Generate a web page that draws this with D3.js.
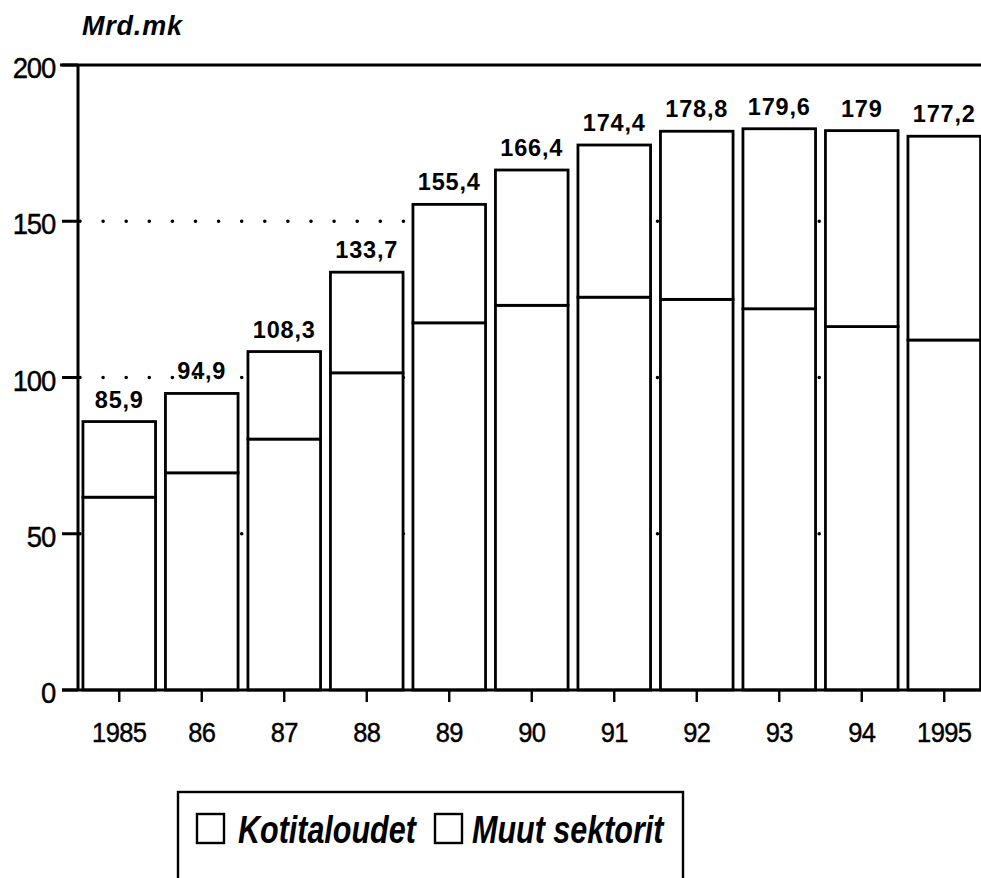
<!DOCTYPE html>
<html><head><meta charset="utf-8">
<script src="https://cdn.jsdelivr.net/npm/d3@7"></script>
<style>body{margin:0;background:#fff}svg{display:block}</style>
</head><body><svg id="c" width="981" height="878"></svg>
<script>
// ---- data ----
const categories = ["1985","86","87","88","89","90","91","92","93","94","1995"];
const totals = [85.9,94.9,108.3,133.7,155.4,166.4,174.4,178.8,179.6,179,177.2];
const totalLabels = ["85,9","94,9","108,3","133,7","155,4","166,4","174,4","178,8","179,6","179","177,2"];
const lowerSegment = [61.7,69.5,80.3,101.5,117.5,123.1,125.7,125.0,122.0,116.3,112.0];
const yTicks = [0,50,100,150,200];
const gridValues = [50,100,150];
const legendLabels = ["Kotitaloudet","Muut sektorit"];
const unitLabel = "Mrd.mk";

// ---- setup ----
const W = 981, H = 878;
const svg = d3.select("#c");
const FONT = "'Liberation Sans', Arial, Helvetica, sans-serif";

const x = d3.scaleBand().domain(categories).range([78, 985.5]).paddingInner(0.12).paddingOuter(0.06);
const y = d3.scaleLinear().domain([0, 200]).range([690, 65]);

function txt(g, px, py, s, o) {
  o = o || {};
  return g.append("text")
    .attr("transform", `translate(${px},${py}) scale(1,${o.sy || 1})`)
    .attr("text-anchor", o.anchor || "start")
    .attr("font-family", FONT)
    .attr("font-size", o.size || 20)
    .attr("font-weight", o.weight || "normal")
    .attr("font-style", o.style || "normal")
    .attr("letter-spacing", o.ls || 0)
    .attr("fill", "#000")
    .attr("stroke", o.sw ? "#000" : "none")
    .attr("stroke-width", o.sw || 0)
    .text(s);
}

// dotted gridlines
svg.append("g").selectAll("line").data(gridValues).join("line")
  .attr("x1", 80).attr("x2", W)
  .attr("y1", d => y(d)).attr("y2", d => y(d))
  .attr("stroke", "#000").attr("stroke-width", 3.6)
  .attr("stroke-linecap", "round").attr("stroke-dasharray", "0 23.1");

// stacked bars
const rows = categories.map((c, i) => ({cat: c, lower: lowerSegment[i], upper: totals[i] - lowerSegment[i]}));
const stacked = d3.stack().keys(["lower", "upper"])(rows);
svg.append("g").selectAll("g").data(stacked).join("g")
  .selectAll("rect").data(d => d).join("rect")
  .attr("x", d => x(d.data.cat))
  .attr("width", x.bandwidth())
  .attr("y", d => y(d[1]))
  .attr("height", d => y(d[0]) - y(d[1]))
  .attr("fill", "#fff").attr("stroke", "#000").attr("stroke-width", 2.8);

// value labels
const vl = svg.append("g");
categories.forEach((c, i) => {
  txt(vl, x(c) + x.bandwidth() / 2, y(totals[i]) - 14, totalLabels[i],
      {anchor: "middle", size: 23.5, weight: "bold", ls: 0.8, sy: 1.05});
});

// axes frame
const ax = svg.append("g").attr("stroke", "#000").attr("stroke-width", 3);
ax.append("line").attr("x1", 78).attr("x2", 78).attr("y1", y(200) - 1).attr("y2", y(0) + 1);
ax.append("line").attr("x1", 60).attr("x2", W).attr("y1", y(200)).attr("y2", y(200));
ax.append("line").attr("x1", 62).attr("x2", W).attr("y1", y(0)).attr("y2", y(0));
ax.selectAll(".yt").data(yTicks).join("line").attr("class", "yt")
  .attr("x1", 62).attr("x2", 78).attr("y1", d => y(d)).attr("y2", d => y(d));
ax.selectAll(".xt").data(categories).join("line").attr("class", "xt")
  .attr("stroke-width", 2.4)
  .attr("x1", d => x(d) + x.bandwidth() / 2).attr("x2", d => x(d) + x.bandwidth() / 2)
  .attr("y1", y(0)).attr("y2", y(0) + 12);

// tick labels
const tl = svg.append("g");
yTicks.forEach(v => txt(tl, 55, y(v) + 13, String(v), {anchor: "end", size: 27.5, sy: 1.1, ls: -1.2, sw: 0.4}));
categories.forEach(c => txt(tl, x(c) + x.bandwidth() / 2, 742, c, {anchor: "middle", size: 25.5, sy: 1.12, ls: -0.6, sw: 0.4}));

// unit label
txt(svg, 82, 35, unitLabel, {size: 27, weight: "bold", style: "italic", ls: 0.8, sy: 1.05});

// legend
const lg = svg.append("g");
lg.append("rect").attr("x", 178).attr("y", 792).attr("width", 505).attr("height", 120)
  .attr("fill", "#fff").attr("stroke", "#000").attr("stroke-width", 2.4);
const legendPos = [{sx: 197, tx: 238}, {sx: 435, tx: 472}];
legendLabels.forEach((l, i) => {
  lg.append("rect").attr("x", legendPos[i].sx).attr("y", 814).attr("width", 27).attr("height", 29)
    .attr("fill", "#fff").attr("stroke", "#000").attr("stroke-width", 2.4);
  txt(lg, legendPos[i].tx, 843, l, {size: 30.5, weight: "bold", style: "italic", sy: 1.28});
});
</script>
</body></html>
